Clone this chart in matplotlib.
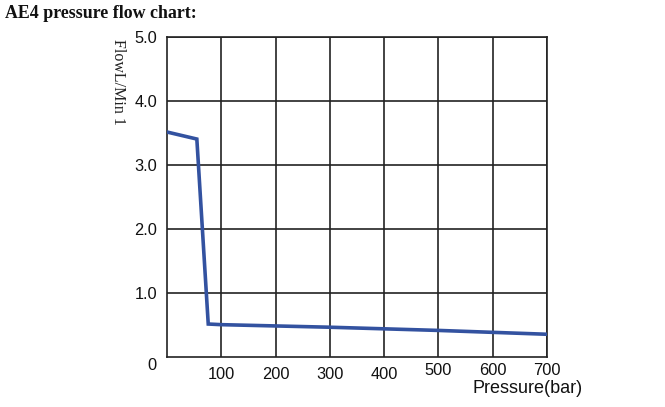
import matplotlib
matplotlib.use("Agg")
import matplotlib.pyplot as plt
import matplotlib.transforms as mtransforms

pressure = [0, 55, 76, 100, 200, 300, 400, 500, 600, 700]
flow = [3.52, 3.41, 0.52, 0.51, 0.49, 0.47, 0.445, 0.42, 0.39, 0.36]
xticks = [100, 200, 300, 400, 500, 600, 700]
yticks = [1.0, 2.0, 3.0, 4.0, 5.0]
ytick_labels = ["1.0", "2.0", "3.0", "4.0", "5.0"]

fig = plt.figure(figsize=(6.65, 4.07), dpi=100)
ax = fig.add_axes([0.2511, 0.1221, 0.5714, 0.7863])
ax.plot(pressure, flow, color="#3352a0", linewidth=2.6, solid_joinstyle="miter", zorder=3)
ax.set_xlim(0, 700)
ax.set_ylim(0, 5)
ax.set_xticks(xticks)
ax.set_xticklabels([str(v) for v in xticks])
ax.set_yticks(yticks)
ax.set_yticklabels(ytick_labels)
ax.grid(True, color="#222222", linewidth=1.2)
for s in ax.spines.values():
    s.set_color("#222222")
    s.set_linewidth(1.2)
ax.tick_params(length=0, labelsize=11.8, labelcolor="#111111")
ax.tick_params(axis="x", pad=7)
ax.tick_params(axis="y", pad=7)
for lab in ax.get_xticklabels() + ax.get_yticklabels():
    lab.set_family("Liberation Sans")
up = mtransforms.ScaledTranslation(0, 4 / 100, fig.dpi_scale_trans)
for lab in ax.get_xticklabels()[4:]:
    lab.set_transform(lab.get_transform() + up)
ax.text(-0.028, -0.025, "0", transform=ax.transAxes, ha="right", va="center",
        fontsize=11.8, family="Liberation Sans", color="#111111")
fig.text(0.793, 0.045, "Pressure(bar)", ha="center", va="center", fontsize=13,
         family="Liberation Sans", color="#111111")
fig.text(0.177, 0.798, "FlowL/Min 1", rotation=-90, ha="center", va="center",
         fontsize=11.5, family="Liberation Serif", color="#222222")
fig.text(0.008, 0.968, "AE4 pressure flow chart:", ha="left", va="center",
         fontsize=12.9, fontweight="bold", family="Liberation Serif", color="#111111")
fig.savefig("out.png", dpi=100)
